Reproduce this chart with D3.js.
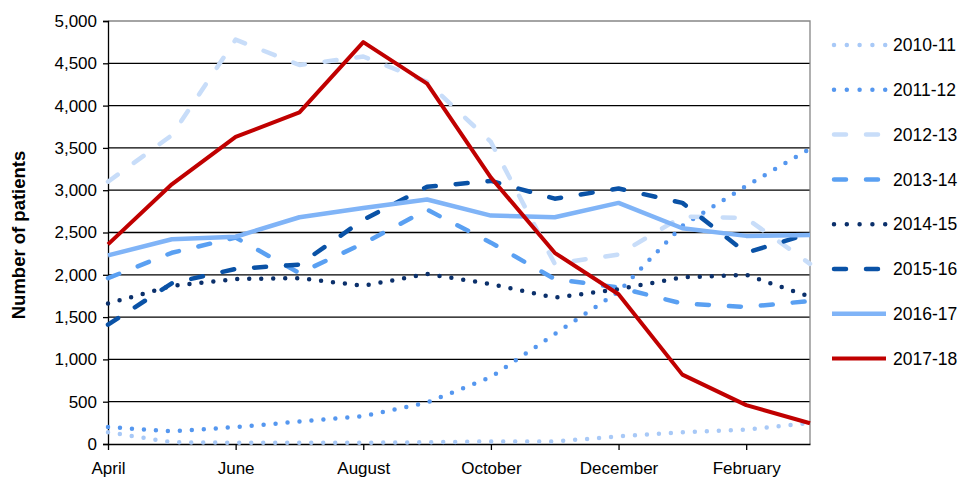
<!DOCTYPE html>
<html>
<head>
<meta charset="utf-8">
<script src="https://cdn.jsdelivr.net/npm/d3@7"></script>
<style>
  body { margin: 0; background: #fff; }
  svg { display: block; font-family: "Liberation Sans", Arial, sans-serif; }
</style>
</head>
<body>
<svg id="chart" width="959" height="477"></svg>
<script>
// months of the financial year, April to March
const months = ["April", "May", "June", "July", "August", "September",
  "October", "November", "December", "January", "February", "March"];
const monthLabels = ["April", "June", "August", "October", "December", "February"];
const yTicks = [0, 500, 1000, 1500, 2000, 2500, 3000, 3500, 4000, 4500, 5000];

const seriesNames = ["2010-11", "2011-12", "2012-13", "2013-14", "2014-15", "2015-16", "2016-17", "2017-18"];

const s2010_11 = [140, 20, 15, 15, 15, 20, 30, 30, 90, 140, 170, 250];
const s2011_12 = [200, 150, 200, 265, 330, 490, 790, 1300, 1800, 2580, 3050, 3490];
const s2012_13 = [3100, 3650, 4780, 4480, 4580, 4280, 3570, 2130, 2240, 2690, 2670, 2130];
const s2013_14 = [1960, 2260, 2440, 2020, 2370, 2770, 2380, 1950, 1850, 1660, 1620, 1690];
const s2014_15 = [1660, 1870, 1950, 1960, 1870, 2010, 1890, 1730, 1830, 1970, 2000, 1740];
const s2015_16 = [1410, 1900, 2070, 2120, 2650, 3040, 3110, 2900, 3020, 2850, 2260, 2490];
const s2016_17 = [2230, 2420, 2450, 2680, 2790, 2890, 2700, 2680, 2850, 2550, 2460, 2470];
const s2017_18 = [2360, 3070, 3630, 3920, 4750, 4260, 3150, 2260, 1770, 820, 460, 245];

const allValues = [s2010_11, s2011_12, s2012_13, s2013_14, s2014_15, s2015_16, s2016_17, s2017_18];

// line look per series
const styles = [
  {color: "#a8c9f7", width: 4.5, dash: "0,12", cap: "round"},
  {color: "#5597ef", width: 4.5, dash: "0,12", cap: "round"},
  {color: "#c8ddf9", width: 4.5, dash: "12,20", cap: "round"},
  {color: "#5aa0f2", width: 4.5, dash: "12,20", cap: "round"},
  {color: "#0b306b", width: 4.5, dash: "0,12", cap: "round"},
  {color: "#0a52a6", width: 4.5, dash: "12,20", cap: "round"},
  {color: "#80b4f7", width: 4.5, dash: null, cap: "butt"},
  {color: "#c00000", width: 4, dash: null, cap: "butt"}
];

const plot = {left: 108, right: 810, top: 21, bottom: 444};
const svg = d3.select("#chart");

let x = d3.scalePoint().domain(months).range([plot.left, plot.right]).padding(0);
let y = d3.scaleLinear().domain([0, 5000]).range([plot.bottom, plot.top]);

// horizontal grid
svg.append("g").selectAll("line")
  .data(yTicks.filter(d => d > 0 && d < 5000))
  .enter().append("line")
  .attr("x1", plot.left).attr("x2", plot.right)
  .attr("y1", d => y(d)).attr("y2", d => y(d))
  .attr("stroke", "#000").attr("stroke-width", 1.3);

// plot border top + right (grey)
svg.append("path")
  .attr("d", `M${plot.left},${plot.top}H${plot.right}V${plot.bottom}`)
  .attr("fill", "none").attr("stroke", "#868686").attr("stroke-width", 1.3);

// y axis
let yAxis = d3.axisLeft(y).tickValues(yTicks).tickSize(5).tickPadding(6)
  .tickFormat(d3.format(","));
let gy = svg.append("g").attr("transform", `translate(${plot.left},0)`).call(yAxis);
gy.select(".domain").attr("stroke", "#000").attr("stroke-width", 1.3);
gy.selectAll(".tick line").attr("stroke", "#000").attr("stroke-width", 1.3);
gy.selectAll("text").attr("font-size", 17).attr("fill", "#000")
  .attr("font-family", "'Liberation Sans', Arial, sans-serif");

// x axis, labels every other month
let xAxis = d3.axisBottom(x).tickValues(monthLabels).tickSize(6).tickPadding(12).tickSizeOuter(0);
let gx = svg.append("g").attr("transform", `translate(0,${plot.bottom})`).call(xAxis);
gx.select(".domain").attr("stroke", "#000").attr("stroke-width", 1.3);
gx.selectAll(".tick line").attr("stroke", "#000").attr("stroke-width", 1.3);
gx.selectAll("text").attr("font-size", 17).attr("fill", "#000")
  .attr("font-family", "'Liberation Sans', Arial, sans-serif");

// y axis title
svg.append("text")
  .attr("transform", `translate(25,235) rotate(-90)`)
  .attr("text-anchor", "middle")
  .attr("font-size", 18.5).attr("font-weight", "bold")
  .text("Number of patients");

// series lines
let line = d3.line().x((d, i) => x(months[i])).y(d => y(d));
svg.append("g").selectAll("path")
  .data(allValues)
  .enter().append("path")
  .attr("d", d => line(d))
  .attr("fill", "none")
  .attr("stroke", (d, i) => styles[i].color)
  .attr("stroke-width", (d, i) => styles[i].width)
  .attr("stroke-dasharray", (d, i) => styles[i].dash)
  .attr("stroke-linecap", (d, i) => styles[i].cap)
  .attr("stroke-linejoin", "round");

// legend
let legend = svg.append("g").attr("class", "legend");
seriesNames.forEach((name, idx) => {
  let ly = 45 + idx * 44.8;
  let st = styles[idx];
  legend.append("line")
    .attr("x1", st.dash ? 834 : 832).attr("x2", 886)
    .attr("y1", ly).attr("y2", ly)
    .attr("stroke", st.color)
    .attr("stroke-width", st.width)
    .attr("stroke-dasharray", st.dash === "0,12" ? "0,12.8" : st.dash)
    .attr("stroke-linecap", st.cap);
  legend.append("text")
    .attr("x", 893).attr("y", ly)
    .attr("dy", "0.35em")
    .attr("font-size", 17.5)
    .text(name);
});
</script>
</body>
</html>
